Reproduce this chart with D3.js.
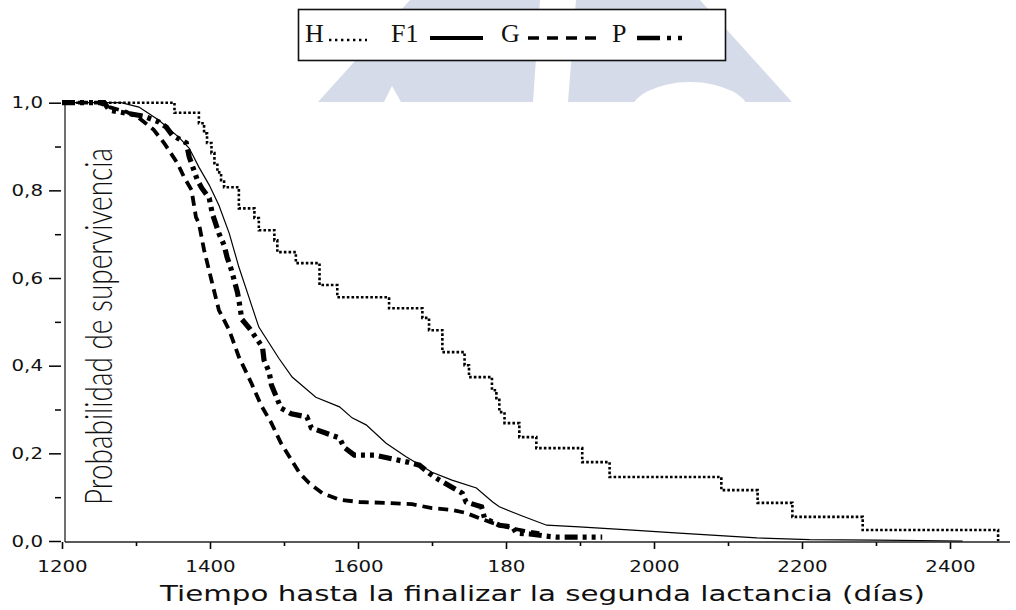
<!DOCTYPE html>
<html>
<head>
<meta charset="utf-8">
<script src="https://cdn.jsdelivr.net/npm/d3@7"></script>
<style>
  html, body { margin: 0; padding: 0; background: #fff; }
  svg { display: block; }
</style>
</head>
<body>
<svg id="chart" width="1016" height="610"></svg>
<script>
// Kaplan–Meier survival estimates to the end of the second lactation, by genetic group
const daysH = [1200, 1352, 1385, 1392, 1396, 1402, 1406, 1410, 1415, 1419, 1439, 1460, 1466, 1487, 1491, 1516, 1548, 1572, 1642, 1687, 1696, 1714, 1744, 1750, 1781, 1787, 1791, 1798, 1818, 1841, 1903, 1940, 2091, 2140, 2187, 2282, 2465];
const survH = [1.000, 0.977, 0.953, 0.930, 0.908, 0.885, 0.862, 0.841, 0.823, 0.807, 0.759, 0.737, 0.709, 0.686, 0.659, 0.634, 0.584, 0.556, 0.531, 0.509, 0.481, 0.431, 0.401, 0.374, 0.344, 0.322, 0.294, 0.269, 0.237, 0.212, 0.180, 0.146, 0.116, 0.087, 0.055, 0.025, 0.000];

const daysF1 = [1200, 1280, 1304, 1331, 1358, 1372, 1385, 1399, 1412, 1426, 1439, 1453, 1466, 1493, 1511, 1543, 1575, 1592, 1611, 1638, 1665, 1700, 1727, 1760, 1782, 1791, 1822, 1855, 1899, 1971, 2034, 2139, 2210, 2301, 2417];
const survF1 = [1.000, 1.000, 0.990, 0.960, 0.921, 0.896, 0.853, 0.812, 0.766, 0.702, 0.625, 0.554, 0.488, 0.417, 0.374, 0.328, 0.306, 0.281, 0.265, 0.223, 0.192, 0.157, 0.139, 0.121, 0.089, 0.078, 0.057, 0.036, 0.032, 0.025, 0.018, 0.007, 0.003, 0.002, 0.000];

const daysG = [1200, 1250, 1264, 1287, 1304, 1324, 1338, 1356, 1365, 1375, 1381, 1385, 1392, 1402, 1408, 1412, 1426, 1439, 1456, 1469, 1483, 1496, 1510, 1521, 1534, 1552, 1575, 1602, 1638, 1673, 1700, 1727, 1746, 1764, 1782, 1805, 1825, 1845];
const survG = [1.000, 1.000, 0.990, 0.979, 0.965, 0.938, 0.908, 0.862, 0.830, 0.801, 0.739, 0.725, 0.664, 0.595, 0.554, 0.527, 0.481, 0.420, 0.360, 0.310, 0.269, 0.223, 0.185, 0.155, 0.132, 0.109, 0.094, 0.089, 0.087, 0.084, 0.075, 0.071, 0.064, 0.052, 0.041, 0.030, 0.023, 0.018];

const daysP = [1200, 1257, 1264, 1287, 1311, 1331, 1341, 1349, 1368, 1372, 1383, 1389, 1399, 1403, 1412, 1419, 1423, 1429, 1437, 1439, 1443, 1453, 1471, 1473, 1480, 1483, 1496, 1510, 1531, 1537, 1575, 1581, 1595, 1622, 1667, 1683, 1696, 1710, 1741, 1746, 1767, 1771, 1791, 1809, 1814, 1832, 1855, 1868, 1930];
const survP = [1.000, 1.000, 0.983, 0.976, 0.969, 0.956, 0.944, 0.926, 0.908, 0.876, 0.823, 0.805, 0.782, 0.748, 0.702, 0.675, 0.648, 0.618, 0.568, 0.550, 0.506, 0.486, 0.442, 0.413, 0.385, 0.356, 0.303, 0.290, 0.283, 0.258, 0.235, 0.214, 0.196, 0.196, 0.180, 0.173, 0.155, 0.139, 0.109, 0.089, 0.078, 0.052, 0.036, 0.032, 0.018, 0.016, 0.011, 0.009, 0.009];

const groupNames = ["H", "F1", "G", "P"];

const xMajorTicks = [1200, 1400, 1600, 1800, 2000, 2200, 2400];
const xTickLabels = ["1200", "1400", "1600", "180", "2000", "2200", "2400"];
const xMinorTicks = [1300, 1500, 1700, 1900, 2100, 2300];
const yMajorTicks = [0, 0.2, 0.4, 0.6, 0.8, 1.0];
const yTickLabels = ["0,0", "0,2", "0,4", "0,6", "0,8", "1,0"];
const yMinorTicks = [0.1, 0.3, 0.5, 0.7, 0.9];

const xTitle = "Tiempo hasta la finalizar la segunda lactancia (días)";
const yTitle = "Probabilidad de supervivencia";

// ---------------------------------------------------------------------------
const svg = d3.select("#chart");
const W = 1016, H = 610;

const x = d3.scaleLinear().domain([1200, 2400]).range([62, 950]);
const y = d3.scaleLinear().domain([0, 1]).range([541, 102.7]);

// faint logo behind the header
const wm = svg.append("g").attr("fill", "#d5dbe9");
wm.append("path").attr("d", "M318,102 L410,0 L540,0 L533,102 Z");
wm.append("path").attr("d", "M568,102 L576,0 L700,0 L792,102 Z");
wm.append("path").attr("d", "M384,102 L392,86 L401,102 Z").attr("fill", "#fff");
wm.append("ellipse").attr("cx", 690).attr("cy", 114).attr("rx", 60).attr("ry", 32).attr("fill", "#fff");

// white chart panel
svg.append("rect").attr("x", 0).attr("y", 102).attr("width", W).attr("height", H - 102).attr("fill", "#fff");

// legend box
const lg = svg.append("g");
lg.append("rect").attr("x", 298.5).attr("y", 9.5).attr("width", 427).attr("height", 51)
  .attr("fill", "#fff").attr("stroke", "#111").attr("stroke-width", 1.6);

const series = [
  { name: groupNames[0], days: daysH,  surv: survH,  curve: d3.curveStepAfter, width: 2.6, dash: "2.6,2.1", cap: "butt" },
  { name: groupNames[1], days: daysF1, surv: survF1, curve: d3.curveLinear,    width: 1.2, dash: null,      cap: "butt" },
  { name: groupNames[2], days: daysG,  surv: survG,  curve: d3.curveLinear,    width: 3.8, dash: "10,6",    cap: "butt" },
  { name: groupNames[3], days: daysP,  surv: survP,  curve: d3.curveLinear,    width: 5.2, dash: "13,5,4,5,4,5", cap: "butt" }
];

// legend entries: label then line sample
const legendText = [305, 391, 501, 612];
const legendSample = [[329, 367, 40, 2.4, "2.4,3.6"], [430, 483, 38, 4, null], [528, 598, 38, 3.4, "11,8"], [637, 683, 38, 4.5, "23,7,4,7,4,40"]];
series.forEach((s, i) => {
  lg.append("text").attr("x", legendText[i]).attr("y", 42)
    .attr("font-family", "'Liberation Serif', 'DejaVu Serif', serif")
    .attr("font-size", 26).attr("fill", "#111").text(s.name);
  const [x0, x1, yy, w, d] = legendSample[i];
  lg.append("line").attr("x1", x0).attr("x2", x1).attr("y1", yy).attr("y2", yy)
    .attr("stroke", "#000").attr("stroke-width", w)
    .attr("stroke-dasharray", d);
});

// axes
const tickFont = "'DejaVu Sans', Verdana, sans-serif";
const stretch = 1.2;

const xAxisY = 542;
const gx = svg.append("g").attr("transform", `translate(0,${xAxisY})`)
  .call(d3.axisBottom(x).tickValues(xMajorTicks).tickSize(7).tickPadding(11)
        .tickFormat((d, i) => xTickLabels[i]));
gx.select(".domain").remove();
gx.selectAll(".tick line").attr("stroke", "#000").attr("stroke-width", 1.6);
gx.selectAll(".tick text").attr("font-family", tickFont).attr("font-size", 16.5)
  .attr("fill", "#111").attr("transform", `scale(${stretch},1)`);

const gxm = svg.append("g").attr("transform", `translate(0,${xAxisY})`)
  .call(d3.axisBottom(x).tickValues(xMinorTicks).tickSize(4).tickFormat(""));
gxm.select(".domain").remove();
gxm.selectAll(".tick line").attr("stroke", "#000").attr("stroke-width", 1.6);

svg.append("line").attr("x1", 65).attr("x2", 1010).attr("y1", xAxisY).attr("y2", xAxisY)
  .attr("stroke", "#222").attr("stroke-width", 1.3);

const yAxisX = 61;
const gy = svg.append("g").attr("transform", `translate(${yAxisX},0)`)
  .call(d3.axisLeft(y).tickValues(yMajorTicks).tickSize(12).tickPadding(3)
        .tickFormat((d, i) => yTickLabels[i]));
gy.select(".domain").remove();
gy.selectAll(".tick line").attr("stroke", "#000").attr("stroke-width", 1.5);
gy.selectAll(".tick text").attr("font-family", tickFont).attr("font-size", 16.5)
  .attr("fill", "#111").attr("transform", `scale(${stretch},1)`);

const gym = svg.append("g").attr("transform", `translate(${yAxisX},0)`)
  .call(d3.axisLeft(y).tickValues(yMinorTicks).tickSize(6).tickFormat(""));
gym.select(".domain").remove();
gym.selectAll(".tick line").attr("stroke", "#000").attr("stroke-width", 1.5);

svg.append("line").attr("x1", 65).attr("x2", 65).attr("y1", y(1) + 2).attr("y2", xAxisY)
  .attr("stroke", "#222").attr("stroke-width", 1.3);

// survival curves
const plot = svg.append("g");
series.forEach(s => {
  const pts = s.days.map((d, i) => [d, s.surv[i]]);
  const line = d3.line().x(d => x(d[0])).y(d => y(d[1])).curve(s.curve);
  plot.append("path").datum(pts).attr("d", line)
    .attr("fill", "none").attr("stroke", "#000")
    .attr("stroke-width", s.width).attr("stroke-dasharray", s.dash)
    .attr("stroke-linecap", s.cap).attr("stroke-linejoin", "miter");
});

// axis titles
svg.append("text").attr("x", 160).attr("y", 601)
  .attr("font-family", tickFont).attr("font-size", 22).attr("fill", "#111")
  .attr("textLength", 765).attr("lengthAdjust", "spacingAndGlyphs")
  .text(xTitle);

svg.append("text").attr("transform", "translate(112,326.5) rotate(-90)")
  .attr("text-anchor", "middle")
  .attr("font-family", "Lato, 'Open Sans', sans-serif").attr("font-weight", 300)
  .attr("font-size", 38).attr("fill", "#111")
  .attr("textLength", 357).attr("lengthAdjust", "spacingAndGlyphs")
  .text(yTitle);
</script>
</body>
</html>
